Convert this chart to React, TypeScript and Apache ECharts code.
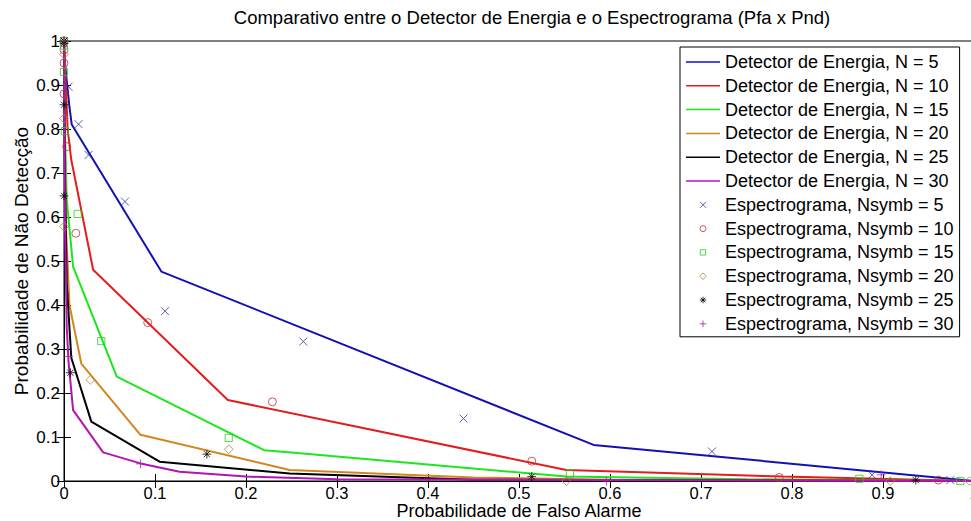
import React, { useEffect, useRef } from "react";
import * as echarts from "echarts";

const titleText = "Comparativo entre o Detector de Energia e o Espectrograma (Pfa x Pnd)";
const xName = "Probabilidade de Falso Alarme";
const yName = "Probabilidade de Não Detecção";

const lineNames = [
  "Detector de Energia, N = 5",
  "Detector de Energia, N = 10",
  "Detector de Energia, N = 15",
  "Detector de Energia, N = 20",
  "Detector de Energia, N = 25",
  "Detector de Energia, N = 30",
];
const markerNames = [
  "Espectrograma, Nsymb = 5",
  "Espectrograma, Nsymb = 10",
  "Espectrograma, Nsymb = 15",
  "Espectrograma, Nsymb = 20",
  "Espectrograma, Nsymb = 25",
  "Espectrograma, Nsymb = 30",
];

// Energy detector curves [Pfa, Pnd]
const detN5 = [[0, 1], [0.001, 0.95], [0.004, 0.89], [0.006, 0.85], [0.0085, 0.81], [0.107, 0.476], [0.582, 0.082], [1, 0]];
const detN10 = [[0, 1], [0.002, 0.9], [0.004, 0.8], [0.008, 0.73], [0.032, 0.48], [0.18, 0.184], [0.552, 0.025], [0.79, 0.01], [1, 0]];
const detN15 = [[0, 1], [0.001, 0.8], [0.003, 0.64], [0.01, 0.487], [0.058, 0.237], [0.22, 0.07], [0.25, 0.065], [0.552, 0.01], [0.75, 0.004], [1, 0]];
const detN20 = [[0, 1], [0.001, 0.75], [0.002, 0.58], [0.006, 0.4], [0.019, 0.267], [0.084, 0.105], [0.248, 0.025], [0.45, 0.008], [0.6, 0.003], [1, 0]];
const detN25 = [[0, 1], [0.001, 0.7], [0.003, 0.45], [0.008, 0.28], [0.03, 0.135], [0.105, 0.044], [0.248, 0.017], [0.45, 0.003], [1, 0]];
const detN30 = [[0, 1], [0.001, 0.6], [0.003, 0.35], [0.005, 0.27], [0.01, 0.161], [0.043, 0.065], [0.084, 0.04], [0.127, 0.021], [0.2, 0.01], [0.3, 0.004], [0.6, 0.002], [1, 0]];

// Spectrogram points [Pfa, Pnd]
const spec5 = [[0, 1], [0.005, 0.896], [0.016, 0.811], [0.027, 0.741], [0.067, 0.635], [0.111, 0.386], [0.263, 0.317], [0.439, 0.142], [0.712, 0.067], [0.888, 0.014], [0.974, 0.002]];
const spec10 = [[0, 1], [0, 0.98], [0, 0.95], [0, 0.88], [0.003, 0.76], [0.013, 0.563], [0.092, 0.36], [0.229, 0.18], [0.514, 0.045], [0.786, 0.008], [0.961, 0.002]];
const spec15 = [[0, 1], [0, 0.99], [0, 0.93], [0.001, 0.795], [0.015, 0.607], [0.041, 0.318], [0.181, 0.098], [0.556, 0.017], [0.874, 0.005], [0.985, 0]];
const spec20 = [[0, 1], [0, 0.97], [0, 0.824], [0, 0.578], [0.029, 0.23], [0.181, 0.072], [0.552, 0], [0.908, 0], [0.995, 0]];
const spec25 = [[0, 1], [0, 0.995], [0, 0.855], [0, 0.648], [0.007, 0.246], [0.157, 0.061], [0.514, 0.01], [0.936, 0.002]];
const spec30 = [[0, 1], [0.005, 0.283], [0.084, 0.039], [0.596, 0], [0.898, 0.014]];

const lineData = [detN5, detN10, detN15, detN20, detN25, detN30];
const markerData = [spec5, spec10, spec15, spec20, spec25, spec30];

const lineColors = ["#1212b4", "#e41c1c", "#1ee61e", "#d2871e", "#000000", "#b414b4"];
const markerColors = ["#3838a0", "#b83434", "#22d022", "#b0823e", "#000000", "#b020b0"];

const PAD = "M0,0 M20,20 ";
const markerPaths = [
  "path://" + PAD + "M5,5 L15,15 M15,5 L5,15",
  "path://" + PAD + "M15,10 A5,5 0 1 1 5,10 A5,5 0 1 1 15,10 Z",
  "path://" + PAD + "M5.5,5.5 L14.5,5.5 L14.5,14.5 L5.5,14.5 Z",
  "path://" + PAD + "M10,4.5 L15.5,10 L10,15.5 L4.5,10 Z",
  "path://" + PAD + "M10,4.5 L10,15.5 M4.5,10 L15.5,10 M6.2,6.2 L13.8,13.8 M13.8,6.2 L6.2,13.8",
  "path://" + PAD + "M10,4.5 L10,15.5 M4.5,10 L15.5,10",
];
const lineIcon = "path://M0,0 L34,0 L34,1.5 L0,1.5 Z";

const FONT = "'Liberation Sans', Arial, sans-serif";

export default function App() {
  const ref = useRef<HTMLDivElement>(null);
  useEffect(() => {
    document.body.style.margin = "0";
    const chart = echarts.init(ref.current!, null, { renderer: "svg" });
    const series: any[] = [];
    lineData.forEach((d, i) => {
      series.push({
        type: "line",
        name: lineNames[i],
        data: d,
        symbol: "none",
        lineStyle: { color: lineColors[i], width: 2 },
        itemStyle: { color: lineColors[i] },
        z: 2,
      });
    });
    markerData.forEach((d, i) => {
      series.push({
        type: "scatter",
        name: markerNames[i],
        data: d,
        symbol: markerPaths[i],
        symbolSize: 16,
        itemStyle: { color: "transparent", borderColor: markerColors[i], borderWidth: 1 },
        z: 3,
      });
    });
    const axisCommon = {
      type: "value",
      min: 0,
      max: 1,
      interval: 0.1,
      splitLine: { show: false },
    };
    const legendData = [
      ...lineNames.map((n) => ({ name: n, icon: lineIcon, itemStyle: { borderWidth: 0 } })),
      ...markerNames.map((n) => ({ name: n })),
    ];
    chart.setOption({
      animation: false,
      textStyle: { fontFamily: FONT },
      title: {
        text: titleText,
        left: 532,
        top: 8,
        textAlign: "center",
        padding: 0,
        textStyle: { fontFamily: FONT, fontSize: 18.5, fontWeight: "normal", color: "#000" },
      },
      grid: {
        left: 64,
        top: 41,
        width: 910,
        height: 440,
        show: true,
        borderColor: "#000",
        borderWidth: 1,
        backgroundColor: "#fff",
        containLabel: false,
        outerBoundsMode: "none",
      },
      legend: {
        orient: "vertical",
        left: 680,
        top: 47,
        padding: [5, 6, 3, 6],
        itemWidth: 34,
        itemHeight: 12,
        itemGap: 3.8,
        backgroundColor: "#fff",
        borderColor: "#000",
        borderWidth: 1,
        itemStyle: { borderWidth: 1 },
        textStyle: { fontFamily: FONT, fontSize: 18, color: "#000", lineHeight: 20 },
        data: legendData,
        selectedMode: false,
        z: 10,
      },
      xAxis: [
        {
          ...axisCommon,
          position: "bottom",
          name: xName,
          nameLocation: "middle",
          nameGap: 21,
          nameMoveOverlap: false,
          nameTextStyle: { fontFamily: FONT, fontSize: 18, color: "#000", lineHeight: 18 },
          axisLine: { show: true, lineStyle: { color: "#000", width: 1 } },
          axisTick: { show: true, inside: true, length: 7, lineStyle: { color: "#000" } },
          axisLabel: { show: true, margin: 4, fontFamily: FONT, fontSize: 16.5, color: "#000", lineHeight: 16 },
        },
        {
          ...axisCommon,
          position: "top",
          axisLine: { show: false },
          axisTick: { show: true, inside: true, length: 7, lineStyle: { color: "#000" } },
          axisLabel: { show: false },
        },
      ],
      yAxis: [
        {
          ...axisCommon,
          position: "left",
          name: yName,
          nameLocation: "middle",
          nameGap: 33,
          nameMoveOverlap: false,
          nameTextStyle: { fontFamily: FONT, fontSize: 19, color: "#000" },
          axisLine: { show: true, lineStyle: { color: "#000", width: 1 } },
          axisTick: { show: true, inside: true, length: 7, lineStyle: { color: "#000" } },
          axisLabel: { show: true, margin: 4, fontFamily: FONT, fontSize: 17, color: "#000" },
        },
        {
          ...axisCommon,
          position: "right",
          axisLine: { show: false },
          axisTick: { show: true, inside: true, length: 7, lineStyle: { color: "#000" } },
          axisLabel: { show: false },
        },
      ],
      series,
    });
    return () => chart.dispose();
  }, []);
  return <div ref={ref} style={{ width: 971, height: 521 }} />;
}
